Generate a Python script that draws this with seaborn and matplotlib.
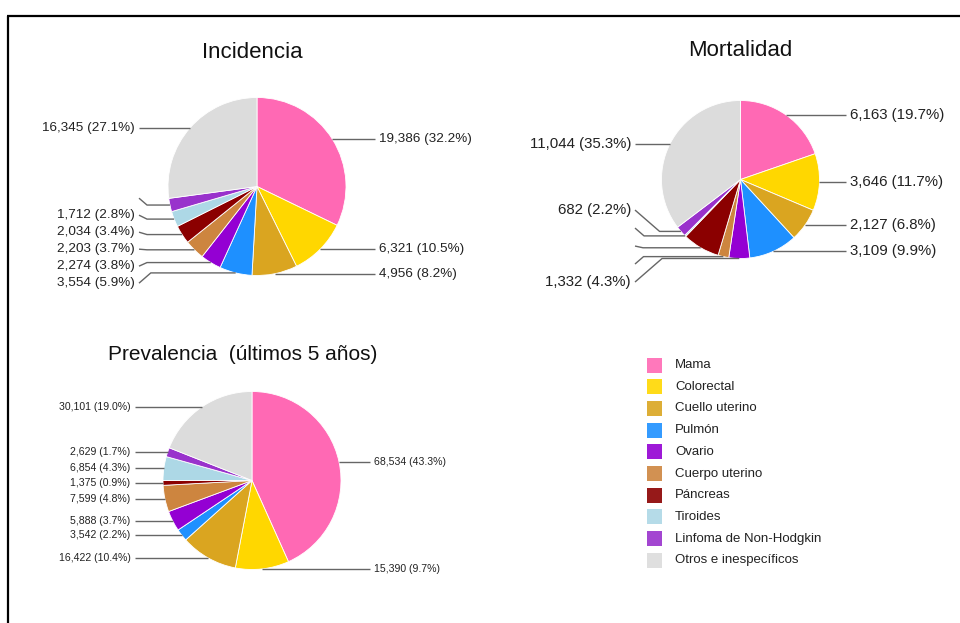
import numpy as np
import matplotlib
matplotlib.use("Agg")
import matplotlib.pyplot as plt
import seaborn as sns

# Datos
categorias = ["Mama", "Colorectal", "Cuello uterino", "Pulmón", "Ovario",
              "Cuerpo uterino", "Páncreas", "Tiroides", "Linfoma de Non-Hodgkin",
              "Otros e inespecíficos"]
colores = ["#FF69B4", "#FFD700", "#DAA520", "#1E90FF", "#9400D3",
           "#CD853F", "#8B0000", "#ADD8E6", "#9932CC", "#DCDCDC"]

incidencia = [19386, 6321, 4956, 3554, 2274, 2203, 2034, 1712, 1455, 16345]
mortalidad = [6163, 3646, 2127, 3109, 1332, 690, 2380, 95, 682, 11044]
prevalencia = [68534, 15390, 16422, 3542, 5888, 7599, 1375, 6854, 2629, 30101]

# etiquetas que aparecen en blanco en el original (solo queda la línea guía)
inc_visible = [True] * 8 + [False, True]
mort_visible = [True] * 5 + [False, False, False, True, True]
prev_visible = [True] * 10

titulos = ["Incidencia", "Mortalidad", "Prevalencia  (últimos 5 años)"]

W, H = 960, 623

sns.set_theme(style="white")
plt.rcParams["font.family"] = ["Liberation Sans", "DejaVu Sans"]
paleta = sns.color_palette(colores)


def repartir(ys, sep):
    # agrupa etiquetas que se solapan y las centra alrededor de su media
    grupos = [[y] for y in ys]

    def arriba(g):
        return np.mean(g) - sep * (len(g) - 1) / 2

    fusion = True
    while fusion:
        fusion = False
        for i in range(len(grupos) - 1):
            fin = arriba(grupos[i]) + sep * (len(grupos[i]) - 1)
            if arriba(grupos[i + 1]) - fin < sep:
                grupos[i] += grupos.pop(i + 1)
                fusion = True
                break
    salida = []
    for g in grupos:
        salida += [arriba(g) + k * sep for k in range(len(g))]
    return salida


def dibujar_pie(ax, valores, visible, cx, cy, r, dx_lab, sep, fs):
    total = sum(valores)
    # eje y invertido: startangle=-90 + counterclock => sentido horario desde arriba
    ax.pie(valores, colors=paleta, startangle=-90, counterclock=True,
           center=(cx, cy), radius=r,
           wedgeprops=dict(edgecolor="white", linewidth=0.6))
    frac = np.array(valores) / total
    medio = (np.cumsum(frac) - frac / 2) * 2 * np.pi
    anc_x = cx + r * np.sin(medio)
    anc_y = cy - r * np.cos(medio)
    textos = [f"{v:,} ({p * 100:.1f}%)" if vis else ""
              for v, p, vis in zip(valores, frac, visible)]

    for lado in (1, -1):
        idx = [i for i in range(len(valores)) if (np.sin(medio[i]) >= 0) == (lado == 1)]
        idx.sort(key=lambda i: anc_y[i])
        ys = repartir([anc_y[i] for i in idx], sep)
        xt = cx + lado * dx_lab
        for i, ly in zip(idx, ys):
            ay = anc_y[i]
            codo = xt - lado * (4 + max(8, 1.15 * abs(ay - ly)))
            ax.plot([xt - lado * 4, codo, anc_x[i]], [ly, ay, ay],
                    color="#666666", lw=1, solid_capstyle="butt")
            ax.text(xt, ly, textos[i], ha="left" if lado == 1 else "right",
                    va="center", fontsize=fs, color="#222222")


fig = plt.figure(figsize=(W / 100, H / 100), dpi=100)
ax = fig.add_axes([0, 0, 1, 1])

dibujar_pie(ax, incidencia, inc_visible, 257, 186.5, 89, 122, 17, 9.7)
dibujar_pie(ax, mortalidad, mort_visible, 740.5, 179.5, 79, 109.5, 18, 10.8)
dibujar_pie(ax, prevalencia, prev_visible, 252, 480.5, 89, 121.5, 13.5, 7.6)

ax.text(252, 52, titulos[0], ha="center", va="center", fontsize=16, color="#111111")
ax.text(740, 50, titulos[1], ha="center", va="center", fontsize=16, color="#111111")
ax.text(243, 355, titulos[2], ha="center", va="center", fontsize=15, color="#111111")

# leyenda
for k, (nombre, col) in enumerate(zip(categorias, paleta)):
    y = 365 + k * 21.7
    ax.add_patch(plt.Rectangle((647, y - 7.5), 15, 15, facecolor=col,
                               edgecolor="none", alpha=0.9))
    ax.text(675, y, nombre, ha="left", va="center", fontsize=9.5, color="#222222")

# marco (solo arriba e izquierda, como en el original)
ax.plot([7, W], [16, 16], color="black", lw=1.6, solid_capstyle="butt")
ax.plot([7.5, 7.5], [16, H], color="black", lw=1.6, solid_capstyle="butt")

ax.set_xlim(0, W)
ax.set_ylim(H, 0)
ax.set_aspect("equal")
ax.axis("off")

fig.savefig("out.png", dpi=100)
